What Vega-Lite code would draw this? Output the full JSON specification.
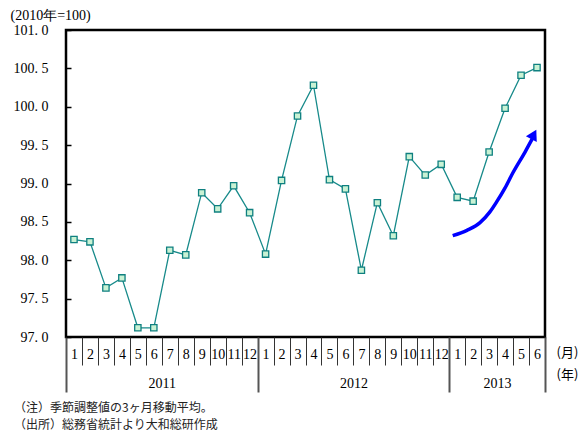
{
  "$schema": "https://vega.github.io/schema/vega-lite/v6.json",
  "width": 479,
  "height": 307,
  "autosize": "none",
  "padding": {"left": 66, "top": 30, "right": 33, "bottom": 95},
  "background": "white",
  "title": {
    "text": ["（注）季節調整値の3ヶ月移動平均。", "（出所）総務省統計より大和総研作成"],
    "orient": "bottom",
    "anchor": "start",
    "frame": "group",
    "dx": -52,
    "offset": 10,
    "font": "Noto Sans CJK JP",
    "fontSize": 12,
    "fontWeight": "normal",
    "lineHeight": 16.5,
    "color": "#222"
  },
  "config": {
    "view": {"stroke": "black", "strokeWidth": 2.5},
    "axis": {"grid": false, "domain": false, "labelFont": "Liberation Serif", "labelFontSize": 14, "labelColor": "black", "titleFont": "Noto Sans CJK JP", "titleFontSize": 12, "titleFontWeight": "normal", "titleColor": "black"}
  },
  "datasets": {
    "s": [
      {"n": 1, "v": 98.27}, {"n": 2, "v": 98.24}, {"n": 3, "v": 97.64}, {"n": 4, "v": 97.77},
      {"n": 5, "v": 97.12}, {"n": 6, "v": 97.12}, {"n": 7, "v": 98.13}, {"n": 8, "v": 98.07},
      {"n": 9, "v": 98.88}, {"n": 10, "v": 98.67}, {"n": 11, "v": 98.97}, {"n": 12, "v": 98.62},
      {"n": 13, "v": 98.08}, {"n": 14, "v": 99.04}, {"n": 15, "v": 99.88}, {"n": 16, "v": 100.28},
      {"n": 17, "v": 99.05}, {"n": 18, "v": 98.93}, {"n": 19, "v": 97.87}, {"n": 20, "v": 98.75},
      {"n": 21, "v": 98.32}, {"n": 22, "v": 99.35}, {"n": 23, "v": 99.11}, {"n": 24, "v": 99.25},
      {"n": 25, "v": 98.82}, {"n": 26, "v": 98.77}, {"n": 27, "v": 99.41}, {"n": 28, "v": 99.98},
      {"n": 29, "v": 100.41}, {"n": 30, "v": 100.51}
    ],
    "a": [
      {"o": 1, "n": 24.72, "v": 98.32},
      {"o": 2, "n": 25.61, "v": 98.39},
      {"o": 3, "n": 26.43, "v": 98.49},
      {"o": 4, "n": 27.05, "v": 98.63},
      {"o": 5, "n": 27.47, "v": 98.76},
      {"o": 6, "n": 27.99, "v": 98.94},
      {"o": 7, "n": 28.49, "v": 99.14},
      {"o": 8, "n": 29.25, "v": 99.41},
      {"o": 9, "n": 29.75, "v": 99.6}
    ],
    "h": [{"n": 29.8, "v": 99.64}]
  },
  "encoding": {
    "y": {
      "field": "v",
      "type": "quantitative",
      "scale": {"domain": [97, 101], "nice": false, "zero": false},
      "axis": {
        "values": [97, 97.5, 98, 98.5, 99, 99.5, 100, 100.5, 101],
        "labelExpr": "replace(format(datum.value, '.1f'), '.', '. ')",
        "tickSize": -5,
        "tickColor": "black",
        "tickWidth": 1.5,
        "labelPadding": 23,
        "title": "(2010年=100)",
        "titleAngle": 0,
        "titleAlign": "left",
        "titleBaseline": "middle",
        "titleX": -56,
        "titleY": -15,
        "titleFont": "Liberation Serif",
        "titleFontSize": 14
      }
    }
  },
  "layer": [
    {
      "data": {"name": "s"},
      "mark": {"type": "line", "color": "#178a8a", "strokeWidth": 1.3},
      "encoding": {
        "x": {
          "field": "n", "type": "quantitative",
          "scale": {"domain": [0.5, 30.5], "nice": false, "zero": false},
          "axis": {"orient": "bottom", "values": [1.5,2.5,3.5,4.5,5.5,6.5,7.5,8.5,9.5,10.5,11.5,13.5,14.5,15.5,16.5,17.5,18.5,19.5,20.5,21.5,22.5,23.5,25.5,26.5,27.5,28.5,29.5], "tickSize": 28, "tickColor": "#333", "tickWidth": 1, "labels": false, "title": null}
        }
      }
    },
    {
      "data": {"name": "s"},
      "mark": {"type": "point", "shape": "square", "size": 40, "filled": true, "fill": "#c9f2d4", "stroke": "#0f8080", "strokeWidth": 1.3, "opacity": 1},
      "encoding": {
        "x": {
          "field": "n", "type": "quantitative",
          "axis": {"orient": "bottom", "values": [1,2,3,4,5,6,7,8,9,10,11,12,13,14,15,16,17,18,19,20,21,22,23,24,25,26,27,28,29,30], "ticks": false, "labelPadding": 10, "labelExpr": "toString((datum.value - 1) % 12 + 1)", "labelFlush": false, "title": "(月)", "titleX": 490, "titleY": 15, "titleAlign": "left", "titleBaseline": "middle", "titleFont": "Noto Sans CJK JP", "titleFontSize": 13}
        }
      }
    },
    {
      "data": {"name": "a"},
      "mark": {"type": "line", "color": "#0000ff", "strokeWidth": 3.5, "interpolate": "monotone"},
      "encoding": {
        "x": {
          "field": "n", "type": "quantitative",
          "axis": {"orient": "bottom", "values": [0.5, 12.5, 24.5, 30.5], "tickSize": 55, "tickColor": "#555", "tickWidth": 2, "labels": false, "title": null}
        },
        "order": {"field": "o", "type": "quantitative"}
      }
    },
    {
      "data": {"name": "h"},
      "mark": {"type": "point", "shape": "triangle-up", "size": 150, "filled": true, "color": "#0000ff", "opacity": 1, "angle": 28},
      "encoding": {
        "x": {
          "field": "n", "type": "quantitative",
          "axis": {"orient": "bottom", "values": [6.5, 18.5, 27.5], "ticks": false, "labelPadding": 39, "labelExpr": "datum.value < 12 ? '2011' : datum.value < 24 ? '2012' : '2013'", "title": "(年)", "titleX": 490, "titleY": 37, "titleAlign": "left", "titleBaseline": "middle", "titleFont": "Noto Sans CJK JP", "titleFontSize": 13}
        }
      }
    }
  ],
  "resolve": {"axis": {"x": "independent"}}
}
